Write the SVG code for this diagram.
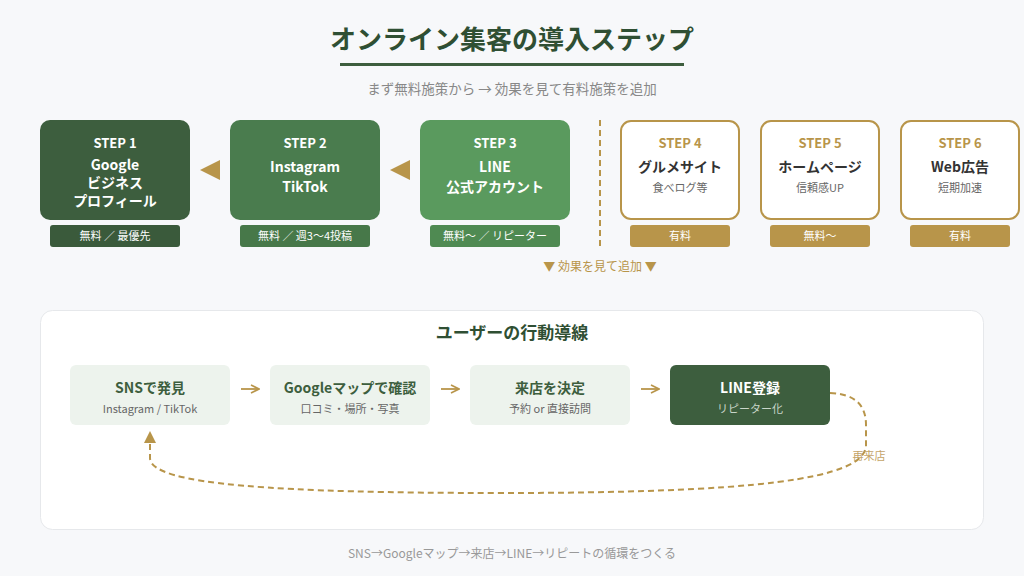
<svg xmlns="http://www.w3.org/2000/svg" width="1024" height="576" viewBox="0 0 1024 576">
<style>
text{font-family:"Noto Sans CJK JP","Noto Sans",sans-serif;text-anchor:middle}
.b{font-weight:700}
.w{fill:#fff}
.gold{fill:#b8954a}
.tag{font-size:11px;fill:#fff}
.paid{fill:#fff;stroke:#b8954a;stroke-width:2}
.flow{fill:#edf3ed}
.ft{font-size:14px;font-weight:700;fill:#3d5e3e}
.fs{font-size:11px;fill:#666}
</style>
<defs>
<marker id="ah" viewBox="0 0 10 10" refX="9" refY="5" markerWidth="10" markerHeight="10" markerUnits="userSpaceOnUse" orient="auto">
<path d="M1 1 L9 5 L1 9" fill="none" stroke="#b8954a" stroke-width="1.6"/>
</marker>
<marker id="ahf" viewBox="0 0 12 12" refX="11" refY="6" markerWidth="12" markerHeight="12" markerUnits="userSpaceOnUse" orient="auto">
<path d="M0 0 L12 6 L0 12 Z" fill="#b8954a"/>
</marker>
</defs>
<rect width="1024" height="576" fill="#f7f8fa"/>
<g id="header">
<text x="512" y="49" class="b" font-size="26" fill="#2f4f33">オンライン集客の導入ステップ</text>
<rect x="340" y="63" width="344" height="3" fill="#3d5e3e"/>
<text x="512" y="94" font-size="13.5" fill="#888">まず無料施策から → 効果を見て有料施策を追加</text>
</g>
<g id="step1">
<rect x="40" y="120" width="150" height="100" rx="10" fill="#3d5e3e"/>
<text x="115" y="148" class="b w" font-size="13">STEP 1</text>
<text x="115" y="170" class="b w" font-size="14">Google</text>
<text x="115" y="188" class="b w" font-size="14">ビジネス</text>
<text x="115" y="206" class="b w" font-size="14">プロフィール</text>
<rect x="50" y="225" width="130" height="22" rx="3" fill="#3a5a3b"/>
<text x="115" y="240" class="tag">無料 ／ 最優先</text>
</g>
<g id="step2">
<rect x="230" y="120" width="150" height="100" rx="10" fill="#4a7c4e"/>
<text x="305" y="148" class="b w" font-size="13">STEP 2</text>
<text x="305" y="172" class="b w" font-size="14">Instagram</text>
<text x="305" y="192" class="b w" font-size="14">TikTok</text>
<rect x="240" y="225" width="130" height="22" rx="3" fill="#477849"/>
<text x="305" y="240" class="tag">無料 ／ 週3〜4投稿</text>
</g>
<g id="step3">
<rect x="420" y="120" width="150" height="100" rx="10" fill="#5a9a5e"/>
<text x="495" y="148" class="b w" font-size="13">STEP 3</text>
<text x="495" y="172" class="b w" font-size="14">LINE</text>
<text x="495" y="192" class="b w" font-size="14">公式アカウント</text>
<rect x="430" y="225" width="130" height="22" rx="3" fill="#4f8a52"/>
<text x="495" y="240" class="tag">無料〜 ／ リピーター</text>
</g>
<g id="step4">
<rect x="621" y="121" width="118" height="98" rx="10" class="paid"/>
<text x="680" y="148" class="b gold" font-size="13">STEP 4</text>
<text x="680" y="172" class="b" font-size="14" fill="#333">グルメサイト</text>
<text x="680" y="192" font-size="11" fill="#666">食べログ等</text>
<rect x="630" y="225" width="100" height="22" rx="3" fill="#b8954a"/>
<text x="680" y="240" class="tag">有料</text>
</g>
<g id="step5">
<rect x="761" y="121" width="118" height="98" rx="10" class="paid"/>
<text x="820" y="148" class="b gold" font-size="13">STEP 5</text>
<text x="820" y="172" class="b" font-size="14" fill="#333">ホームページ</text>
<text x="820" y="192" font-size="11" fill="#666">信頼感UP</text>
<rect x="770" y="225" width="100" height="22" rx="3" fill="#b8954a"/>
<text x="820" y="240" class="tag">無料〜</text>
</g>
<g id="step6">
<rect x="901" y="121" width="118" height="98" rx="10" class="paid"/>
<text x="960" y="148" class="b gold" font-size="13">STEP 6</text>
<text x="960" y="172" class="b" font-size="14" fill="#333">Web広告</text>
<text x="960" y="192" font-size="11" fill="#666">短期加速</text>
<rect x="910" y="225" width="100" height="22" rx="3" fill="#b8954a"/>
<text x="960" y="240" class="tag">有料</text>
</g>
<g id="step-connectors">
<path d="M200 170 L220 160 L220 180 Z" fill="#b8954a"/>
<path d="M390 170 L410 160 L410 180 Z" fill="#b8954a"/>
<line x1="600" y1="120" x2="600" y2="247" stroke="#b8954a" stroke-width="2" stroke-dasharray="6 4"/>
<text x="600" y="271" font-size="12" class="gold">▼ 効果を見て追加 ▼</text>
</g>
<g id="panel">
<rect x="40.5" y="310.5" width="943" height="219" rx="12" fill="#fff" stroke="#e6e8eb"/>
<text x="512" y="339" class="b" font-size="17" fill="#2f4f33">ユーザーの行動導線</text>
</g>
<g id="flow1">
<rect x="70" y="365" width="160" height="60" rx="6" class="flow"/>
<text x="150" y="393" class="ft">SNSで発見</text>
<text x="150" y="413" class="fs">Instagram / TikTok</text>
</g>
<g id="flow2">
<rect x="270" y="365" width="160" height="60" rx="6" class="flow"/>
<text x="350" y="393" class="ft">Googleマップで確認</text>
<text x="350" y="413" class="fs">口コミ・場所・写真</text>
</g>
<g id="flow3">
<rect x="470" y="365" width="160" height="60" rx="6" class="flow"/>
<text x="550" y="393" class="ft">来店を決定</text>
<text x="550" y="413" class="fs">予約 or 直接訪問</text>
</g>
<g id="flow4">
<rect x="670" y="365" width="160" height="60" rx="6" fill="#3d5e3e"/>
<text x="750" y="393" class="b w" font-size="14">LINE登録</text>
<text x="750" y="413" font-size="11" fill="#c9d6c9">リピーター化</text>
</g>
<g id="connectors" fill="none" stroke="#b8954a">
<line x1="241" y1="389" x2="259" y2="389" stroke-width="1.8" marker-end="url(#ah)"/>
<line x1="441" y1="389" x2="459" y2="389" stroke-width="1.8" marker-end="url(#ah)"/>
<line x1="641" y1="389" x2="659" y2="389" stroke-width="1.8" marker-end="url(#ah)"/>
<path d="M830 393 C855 394 866 405 866 425 L866 445 C866 480 750 493 500 493 C280 493 150 485 150 458 L150 432" stroke-width="2" stroke-dasharray="6 4" marker-end="url(#ahf)"/>
<text x="869" y="460" font-size="11" fill="#c4a468" stroke="none">再来店</text>
</g>
<text x="512" y="558" font-size="12" fill="#999">SNS→Googleマップ→来店→LINE→リピートの循環をつくる</text>
</svg>
